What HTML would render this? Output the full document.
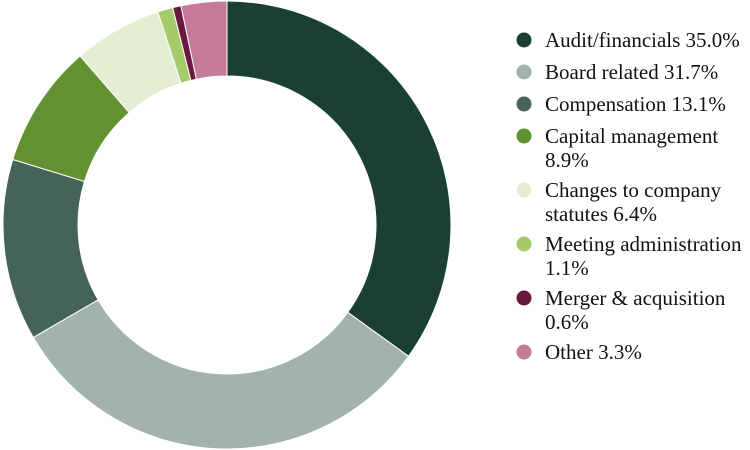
<!DOCTYPE html>
<html><head><meta charset="utf-8"><style>
body{margin:0;background:#fff;}
svg{display:block;font-family:"Liberation Serif",serif;}
</style></head><body>
<svg id="chart" width="750" height="450"></svg>
<script>
const categories=["Audit/financials","Board related","Compensation","Capital management","Changes to company statutes","Meeting administration","Merger & acquisition","Other"];
const values=[35.0,31.7,13.1,8.9,6.4,1.1,0.6,3.3];
const labelLines=[["Audit/financials 35.0%"],["Board related 31.7%"],["Compensation 13.1%"],["Capital management","8.9%"],["Changes to company","statutes 6.4%"],["Meeting administration","1.1%"],["Merger & acquisition","0.6%"],["Other 3.3%"]];
const colors=["#1a3f33","#a3b3ab","#456359","#62922f","#e3eed3","#a6cb6b","#6b1840","#c47c9a"];
const NS="http://www.w3.org/2000/svg";
const svg=document.getElementById('chart');
const cx=227,cy=225,R=224,r=149;
const total=values.reduce((a,b)=>a+b,0);
function pt(a,rad){return [cx+rad*Math.sin(a),cy-rad*Math.cos(a)];}
let acc=0;
values.forEach((v,i)=>{
  const a0=acc/total*2*Math.PI;acc+=v;const a1=acc/total*2*Math.PI;
  const large=(a1-a0)>Math.PI?1:0;
  const [x0,y0]=pt(a0,R),[x1,y1]=pt(a1,R),[x2,y2]=pt(a1,r),[x3,y3]=pt(a0,r);
  const p=document.createElementNS(NS,'path');
  p.setAttribute('d',`M${x0},${y0}A${R},${R} 0 ${large} 1 ${x1},${y1}L${x2},${y2}A${r},${r} 0 ${large} 0 ${x3},${y3}Z`);
  p.setAttribute('fill',colors[i]);p.setAttribute('stroke','#fff');p.setAttribute('stroke-width','1');
  
  
  svg.appendChild(p);
});
let y=40;
labelLines.forEach((lines,i)=>{
  const g=document.createElementNS(NS,'g');
  
  
  const c=document.createElementNS(NS,'circle');
  c.setAttribute('cx',524);c.setAttribute('cy',y);c.setAttribute('r',7.5);c.setAttribute('fill',colors[i]);
  
  
  g.appendChild(c);
  lines.forEach((ln,j)=>{
    const t=document.createElementNS(NS,'text');
    t.setAttribute('x',545);t.setAttribute('y',y+7+j*24);t.setAttribute('font-size','21');t.setAttribute('fill','#111');
    t.textContent=ln;
    
    
    g.appendChild(t);
  });
  svg.appendChild(g);
  y+=32+(lines.length-1)*22;
});
</script>
</body></html>
